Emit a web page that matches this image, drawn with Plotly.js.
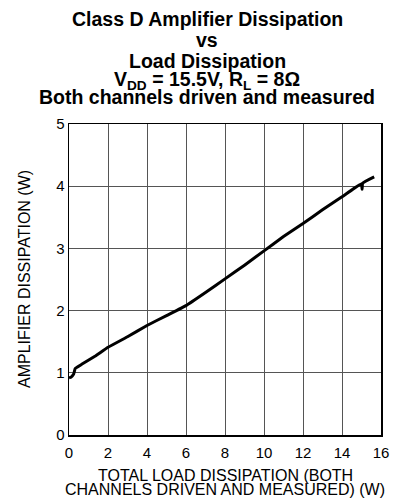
<!DOCTYPE html>
<html>
<head>
<meta charset="utf-8">
<script src="https://cdn.plot.ly/plotly-3.0.1.min.js"></script>
<style>
  html, body { margin: 0; padding: 0; background: #fff; }
  #chart { width: 406px; height: 500px; }
</style>
</head>
<body>
<div id="chart"></div>
<script>
// Total load dissipation (W), both channels driven
const loadPower = [0, 0.1, 0.24, 0.32, 0.67, 1.35, 2, 3, 4, 5, 6, 7, 8, 9, 10, 11, 12, 13, 14, 15.0, 15.03, 15.06, 15.65];
// Amplifier dissipation (W)
const ampPower = [0.92, 0.93, 0.98, 1.07, 1.14, 1.27, 1.41, 1.58, 1.76, 1.92, 2.08, 2.29, 2.51, 2.73, 2.96, 3.19, 3.40, 3.62, 3.83, 4.04, 3.95, 4.05, 4.15];

const xTicks = [0, 2, 4, 6, 8, 10, 12, 14, 16];
const yTicks = [0, 1, 2, 3, 4, 5];

const titleLines = [
  "Class D Amplifier Dissipation",
  "vs",
  "Load Dissipation",
  "V<sub>DD</sub> = 15.5V, R<sub>L</sub> = 8Ω",
  "Both channels driven and measured"
];
const xTitleLines = [
  "TOTAL LOAD DISSIPATION (BOTH",
  "CHANNELS DRIVEN AND MEASURED) (W)"
];
const yTitle = "AMPLIFIER DISSIPATION (W)";

const font = "Liberation Sans, Arial, sans-serif";

// plot frame in page pixels, used to place the stacked title lines
const frame = { l: 69, r: 381, t: 124, b: 435 };
const px = v => (v - frame.l) / (frame.r - frame.l);
const py = v => (frame.b - v) / (frame.b - frame.t);

const titleMid = [19.3, 40.3, 61.3, 80.3, 96.8];
const xTitleMid = [475.5, 489];

const trace = {
  x: loadPower,
  y: ampPower,
  type: "scatter",
  mode: "lines",
  line: { color: "#000", width: 3, shape: "spline", smoothing: 0.3 },
  hoverinfo: "skip"
};

const annotations = [];
titleLines.forEach((t, i) => annotations.push({
  text: "<b>" + t + "</b>",
  xref: "paper", yref: "paper",
  x: px(207), xanchor: "center",
  y: py(titleMid[i]), yanchor: "middle",
  showarrow: false,
  font: { family: font, size: 19.5, color: "#000" }
}));
xTitleLines.forEach((t, i) => annotations.push({
  text: t,
  xref: "paper", yref: "paper",
  x: px(225), xanchor: "center",
  y: py(xTitleMid[i]), yanchor: "middle",
  showarrow: false,
  font: { family: font, size: 16, color: "#000" }
}));
annotations.push({
  text: yTitle,
  xref: "paper", yref: "paper",
  x: px(24.5), xanchor: "center",
  y: 0.5, yanchor: "middle",
  textangle: -90,
  showarrow: false,
  font: { family: font, size: 16, color: "#000" }
});

const axisCommon = {
  ticks: "", ticklen: 0,
  showgrid: true, gridcolor: "#555", gridwidth: 1,
  showline: true, linecolor: "#000", linewidth: 1.5, mirror: true,
  zeroline: false,
  tickfont: { family: font, size: 15, color: "#000" }
};

const layout = {
  width: 406, height: 500,
  margin: { l: 69, r: 25, t: 124, b: 65 },
  paper_bgcolor: "#fff", plot_bgcolor: "#fff",
  showlegend: false,
  font: { family: font, color: "#000", size: 15 },
  annotations: annotations,
  xaxis: Object.assign({}, axisCommon, {
    range: [0, 16],
    tickvals: xTicks,
    ticktext: xTicks.map(String),
    ticklabelstandoff: 3
  }),
  yaxis: Object.assign({}, axisCommon, {
    range: [0, 5],
    tickvals: yTicks,
    ticktext: yTicks.map(String)
  })
};

Plotly.newPlot("chart", [trace], layout, { staticPlot: true, displayModeBar: false });
</script>
</body>
</html>
